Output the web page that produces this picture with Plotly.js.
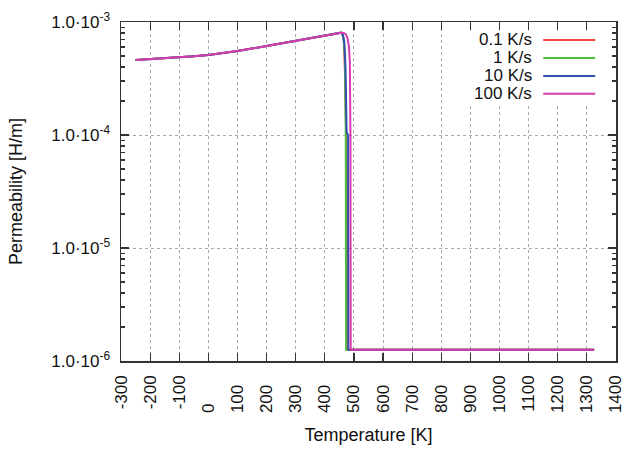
<!DOCTYPE html>
<html>
<head>
<meta charset="utf-8">
<script src="https://cdn.plot.ly/plotly-3.0.1.min.js"></script>
<style>html,body{margin:0;padding:0;background:#fff;}#plot{width:625px;height:453px;}</style>
</head>
<body>
<div id="plot"></div>
<script>
// Shared ferromagnetic branch (all rates coincide), temperature in K, permeability in H/m
const tempCommon = [-250, -200, -150, -100, -50, 0, 50, 100, 150, 200, 250, 300, 350, 400, 430, 450, 456];
const permCommon = [4.60e-4, 4.68e-4, 4.76e-4, 4.86e-4, 4.97e-4, 5.10e-4, 5.30e-4, 5.53e-4, 5.82e-4, 6.15e-4, 6.48e-4, 6.82e-4, 7.22e-4, 7.64e-4, 7.90e-4, 8.03e-4, 8.05e-4];

// Drop through the Curie region and paramagnetic plateau, per heating rate
const tempRed   = [462, 466, 470, 474, 476, 477, 1325];
const permRed   = [7.7e-4, 6.5e-4, 3.0e-4, 1.1e-4, 4.0e-5, 1.2566e-6, 1.2566e-6];
const tempGreen = [461, 465, 469, 471, 472, 473, 1325];
const permGreen = [7.7e-4, 6.8e-4, 5.0e-4, 2.0e-4, 1.0e-4, 1.2566e-6, 1.2566e-6];
const tempBlue  = [462, 467, 471, 475, 478, 480, 481, 1325];
const permBlue  = [7.7e-4, 6.6e-4, 4.0e-4, 1.05e-4, 1.02e-4, 1.0e-4, 1.2566e-6, 1.2566e-6];
const tempPink  = [465, 472, 478, 483, 486, 488, 489, 1325];
const permPink  = [8.0e-4, 7.8e-4, 7.2e-4, 6.0e-4, 4.5e-4, 1.0e-4, 1.2566e-6, 1.2566e-6];

const seriesNames  = ["0.1 K/s", "1 K/s", "10 K/s", "100 K/s"];
const seriesColors = ["#f04444", "#4fc03a", "#3050b4", "#d63cb0"];

const xTickVals = [-300, -200, -100, 0, 100, 200, 300, 400, 500, 600, 700, 800, 900, 1000, 1100, 1200, 1300, 1400];
const xTickText = ["-300", "-200", "-100", "0", "100", "200", "300", "400", "500", "600", "700", "800", "900", "1000", "1100", "1200", "1300", "1400"];

const yTickVals = [1e-6, 1e-5, 1e-4, 1e-3];
const yTickText = ["1.0·10<sup>-6</sup>", "1.0·10<sup>-5</sup>", "1.0·10<sup>-4</sup>", "1.0·10<sup>-3</sup>"];

const drops = [[tempRed, permRed], [tempGreen, permGreen], [tempBlue, permBlue], [tempPink, permPink]];

const traces = drops.map((d, i) => ({
  x: tempCommon.concat(d[0]),
  y: permCommon.concat(d[1]),
  type: 'scatter',
  mode: 'lines',
  name: seriesNames[i],
  line: {color: seriesColors[i], width: 2},
  hoverinfo: 'skip'
}));

// gnuplot-style rotated labels start at a common baseline: pad shorter labels with figure spaces
const FS = '\u2007';
const xTickShown = xTickText.map(s => {
  const digits = s.replace('-', '').length;
  return s.startsWith('-') ? s : s + FS.repeat(Math.max(0, 4 - digits));
});

// minor log ticks 2..9 in each decade
const yMinor = [];
for (let e = -6; e < -3; e++) for (let k = 2; k <= 9; k++) yMinor.push(k * Math.pow(10, e));

// Legend drawn gnuplot-style: text on the left, sample line on the right
const legX0 = 0.689, legX1 = 0.988, legY0 = 0.761, legY1 = 0.975;
const legRows = [0.947, 0.894, 0.841, 0.788];
const annotations = seriesNames.map((n, i) => ({
  xref: 'paper', yref: 'paper', x: 0.832, y: legRows[i], xanchor: 'right', yanchor: 'middle',
  text: n, showarrow: false, borderpad: 0, font: {size: 17, color: '#111'}
}));
const shapes = [{type: 'rect', xref: 'paper', yref: 'paper', x0: legX0, x1: legX1, y0: legY0, y1: legY1,
  fillcolor: '#ffffff', line: {width: 0}, layer: 'above'}]
  .concat(seriesColors.map((c, i) => ({
    type: 'line', xref: 'paper', yref: 'paper', x0: 0.853, x1: 0.958, y0: legRows[i], y1: legRows[i],
    line: {color: c, width: 2}, layer: 'above'
  })));

const layout = {
  width: 625, height: 453,
  margin: {l: 121, r: 9, t: 22, b: 92},
  paper_bgcolor: '#ffffff', plot_bgcolor: '#ffffff',
  font: {family: 'Liberation Sans, Arial, sans-serif', size: 17, color: '#111'},
  showlegend: false,
  xaxis: {
    range: [-300, 1400.1], tickmode: 'array', tickvals: xTickVals, ticktext: xTickShown,
    ticks: 'inside', ticklen: 8, tickwidth: 1.2, tickcolor: '#333',
    showline: true, linecolor: '#333', linewidth: 1.5, mirror: 'ticks',
    showgrid: true, gridcolor: '#a8a8a8', griddash: 'dot', gridwidth: 1,
    zeroline: false, tickangle: -90, tickfont: {size: 17}, ticklabelstandoff: 6,
    ticklabeloverflow: 'allow',
    title: {text: 'Temperature [K]', font: {size: 18}, standoff: 16}
  },
  yaxis: {
    type: 'log', range: [-6, -3], tickmode: 'array', tickvals: yTickVals, ticktext: yTickText,
    ticks: 'inside', ticklen: 8, tickwidth: 1.2, tickcolor: '#333',
    minor: {tickmode: 'array', tickvals: yMinor, ticks: 'inside', ticklen: 4, tickcolor: '#333', showgrid: false},
    showline: true, linecolor: '#333', linewidth: 1.5, mirror: 'ticks',
    showgrid: true, gridcolor: '#a8a8a8', griddash: 'dot', gridwidth: 1,
    zeroline: false, tickfont: {size: 17}, ticklabelstandoff: 6,
    ticklabeloverflow: 'allow',
    title: {text: 'Permeability [H/m]', font: {size: 18}, standoff: 24}
  },
  annotations: annotations,
  shapes: shapes
};

Plotly.newPlot('plot', traces, layout, {displayModeBar: false, staticPlot: true});
</script>
</body>
</html>
